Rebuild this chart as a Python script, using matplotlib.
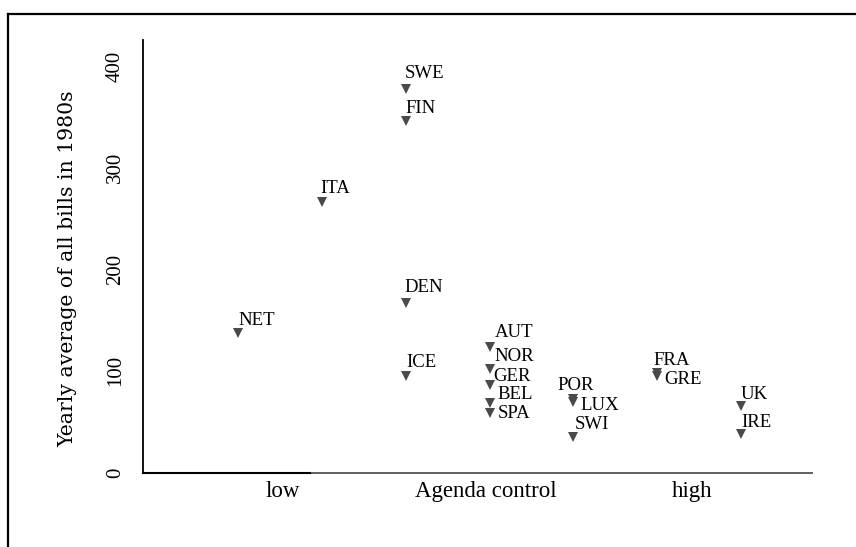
import matplotlib.pyplot as plt
import matplotlib.lines as mlines

plt.rcParams['font.family'] = ['Liberation Serif', 'DejaVu Serif']

# agenda control rank (1 = low ... 7 = high) and yearly bills
countries = ["NET", "ITA", "SWE", "FIN", "DEN", "ICE", "AUT", "NOR", "GER",
             "BEL", "SPA", "POR", "LUX", "SWI", "FRA", "GRE", "UK", "IRE"]
agenda = [1, 2, 3, 3, 3, 3, 4, 4, 4, 4, 4, 5, 5, 5, 6, 6, 7, 7]
bills = [137, 266, 377, 346, 167, 95, 124, 102, 86, 68, 59, 72, 69, 35,
         98, 95, 65, 38]

xtick_pos = [1.53, 3.96, 6.42]
xtick_labels = ["low", "Agenda control", "high"]
ytick_vals = [0, 100, 200, 300, 400]

# label offsets in pixels (dx, dy) from the marker
label_offsets = [(0, 13), (-2, 14), (-1, 16), (0, 12), (-1, 15), (0, 13),
                 (5, 14), (5, 12), (4, 9), (8, 9), (8, -1), (-16, 14),
                 (7, -3), (1, 12), (-4, 12), (7, -4), (0, 12), (1, 11)]


def main():
    fig = plt.figure(figsize=(8.56, 5.47), dpi=100)
    ax = fig.add_axes([143/856, 1 - 472.5/547, 669/856, 432.5/547])

    ax.plot(agenda, bills, linestyle="none", marker="v", markersize=6.5,
            color="#4a4a4a", markeredgewidth=0)

    for name, x, y, (dx, dy) in zip(countries, agenda, bills, label_offsets):
        ax.annotate(name, (x, y), xytext=(dx, dy), textcoords="offset pixels",
                    ha="left", va="center", fontsize=13.5, color="black")

    ax.set_xlim(-0.141, 7.852)
    ax.set_ylim(0, 425.7)

    ax.spines["top"].set_visible(False)
    ax.spines["right"].set_visible(False)
    ax.spines["left"].set_linewidth(1.3)
    ax.spines["left"].set_color("black")
    ax.spines["bottom"].set_linewidth(1.4)
    ax.spines["bottom"].set_color("#606060")
    # darker start of the x axis line, as in the original
    ax.axhline(0, xmin=0, xmax=0.25, color="black", linewidth=1.5,
               clip_on=False, zorder=5)

    ax.set_xticks(xtick_pos)
    ax.set_xticklabels(xtick_labels, fontsize=16.5)
    ax.set_yticks(ytick_vals)
    ax.set_yticklabels([str(v) for v in ytick_vals], fontsize=15,
                       rotation=90, va="center")
    ax.tick_params(axis="x", length=0, pad=6)
    ax.tick_params(axis="y", length=0, pad=13)

    fig.text(68/856, 1 - 269/547, "Yearly average of all bills in 1980s",
             rotation=90, ha="center", va="center", fontsize=14.7,
             family=["DejaVu Serif"])

    # outer frame: top and left edges
    fig.add_artist(mlines.Line2D([8/856, 1], [1 - 14/547, 1 - 14/547],
                                 color="black", linewidth=1.6,
                                 transform=fig.transFigure))
    fig.add_artist(mlines.Line2D([8/856, 8/856], [0, 1 - 14/547],
                                 color="black", linewidth=1.6,
                                 transform=fig.transFigure))

    fig.savefig("out.png", dpi=100)


if __name__ == "__main__":
    main()
